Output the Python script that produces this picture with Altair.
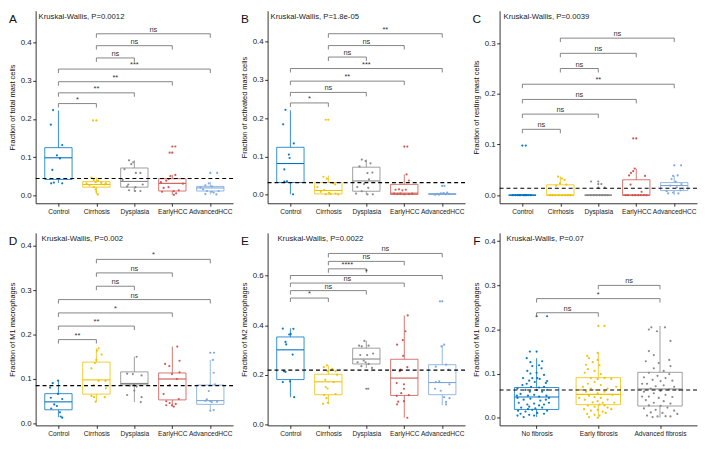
import altair as alt
import pandas as pd

FONT = "Liberation Sans"
W, H = 200, 195
BW = 0.36  # half box width in category units

CATS5 = ["Control", "Cirrhosis", "Dysplasia", "EarlyHCC", "AdvancedHCC"]
CATS3 = ["No fibrosis", "Early fibrosis", "Advanced fibrosis"]
COL5 = ["#0073C2", "#EFC000", "#868686", "#CD534C", "#7AA6DC"]
COL3 = ["#0073C2", "#EFC000", "#868686"]

# ---------------- Panel A ----------------
A_KW = "Kruskal-Wallis, P=0.0012"
A_YTITLE = "Fraction of total mast cells"
A_YDOMAIN = [-0.02, 0.482]
A_YTICKS = [0.0, 0.1, 0.2, 0.3, 0.4]
A_HLINE = 0.0447
A_LO = [0.033, 0.003, 0.010, 0.002, 0.003]
A_Q1 = [0.042, 0.022, 0.022, 0.012, 0.012]
A_MED = [0.0986, 0.029, 0.037, 0.032, 0.020]
A_Q3 = [0.125, 0.0365, 0.072, 0.044, 0.024]
A_HI = [0.222, 0.047, 0.092, 0.054, 0.035]
A_OUT_X = [1, 3, 3, 4]
A_OUT_Y = [0.196, 0.112, 0.128, 0.059]
A_Control = [(-0.14, 0.223), (-0.2, 0.185), (0.1, 0.132), (-0.04, 0.105), (0.04, 0.097),
             (-0.16, 0.067), (-0.19, 0.032), (-0.12, 0.034), (0.1, 0.032)]
A_Cirrhosis = [(-0.09, 0.196), (-0.13, 0.047), (-0.07, 0.041), (0.04, 0.039), (-0.02, 0.035),
               (-0.26, 0.032), (0.13, 0.033), (0.22, 0.029), (-0.18, 0.027), (-0.07, 0.022),
               (-0.02, 0.016), (0.04, 0.003), (0.0, 0.010), (0.25, 0.032)]
A_Dysplasia = [(-0.14, 0.092), (-0.03, 0.087), (-0.08, 0.082), (-0.26, 0.069), (0.04, 0.059),
               (0.16, 0.059), (-0.31, 0.041), (-0.16, 0.029), (-0.19, 0.024), (0.03, 0.022),
               (-0.14, 0.014), (0.02, 0.012), (0.16, 0.012), (0.22, 0.029)]
A_EarlyHCC = [(-0.07, 0.112), (0.08, 0.128), (-0.05, 0.051), (0.08, 0.054), (-0.1, 0.043),
              (-0.16, 0.039), (-0.3, 0.035), (-0.23, 0.020), (-0.1, 0.022), (0.04, 0.012),
              (0.1, 0.006), (0.04, 0.002), (-0.27, 0.010), (0.28, 0.031), (0.17, 0.014)]
A_AdvancedHCC = [(0.18, 0.059), (-0.04, 0.032), (-0.13, 0.027), (0.04, 0.024), (-0.26, 0.021),
                 (-0.19, 0.016), (-0.09, 0.012), (0.04, 0.010), (0.16, 0.003), (0.09, 0.008),
                 (0.22, 0.012), (-0.13, 0.004)]
A_BR = [(0, 1, 0.240, "*"), (0, 2, 0.268, "**"), (0, 3, 0.297, "**"), (0, 4, 0.330, "***"),
        (1, 2, 0.359, "ns"), (1, 3, 0.391, "ns"), (1, 4, 0.422, "ns")]

# ---------------- Panel B ----------------
B_KW = "Kruskal-Wallis, P=1.8e-05"
B_YTITLE = "Fraction of activated mast cells"
B_YDOMAIN = [-0.0224, 0.481]
B_YTICKS = [0.0, 0.1, 0.2, 0.3, 0.4]
B_HLINE = 0.0316
B_LO = [0.001, 0.0, 0.0, 0.0, 0.0]
B_Q1 = [0.032, 0.002, 0.009, 0.0005, 0.0005]
B_MED = [0.0815, 0.011, 0.036, 0.004, 0.0015]
B_Q3 = [0.124, 0.032, 0.072, 0.027, 0.003]
B_HI = [0.221, 0.05, 0.092, 0.053, 0.006]
B_OUT_X = [1, 3, 4]
B_OUT_Y = [0.196, 0.126, 0.023]
B_Control = [(-0.13, 0.222), (-0.19, 0.184), (0.09, 0.134), (-0.04, 0.105), (-0.02, 0.096),
             (-0.16, 0.066), (-0.16, 0.034), (-0.09, 0.035), (0.07, 0.001)]
B_Cirrhosis = [(-0.07, 0.196), (-0.13, 0.047), (-0.04, 0.042), (0.18, 0.027), (-0.29, 0.020),
               (-0.2, 0.0075), (-0.07, 0.001), (0.06, 0.002), (0.19, 0.003), (0.13, 0.030),
               (0.02, 0.005), (-0.11, 0.012), (0.26, 0.001)]
B_Dysplasia = [(-0.12, 0.092), (-0.02, 0.088), (0.11, 0.082), (-0.18, 0.074), (0.16, 0.058),
               (0.03, 0.0565), (0.07, 0.040), (-0.06, 0.028), (-0.24, 0.020), (0.05, 0.018),
               (-0.12, 0.009), (0.03, 0.001), (0.17, 0.001), (-0.27, 0.003)]
B_EarlyHCC = [(0.08, 0.126), (0.06, 0.053), (0.12, 0.037), (-0.14, 0.014), (-0.23, 0.013),
              (-0.05, 0.0115), (0.04, 0.013), (-0.1, 0.003), (-0.18, 0.0017), (0.12, 0.0017),
              (0.21, 0.003), (0.0, 0.001), (-0.27, 0.003)]
B_AdvancedHCC = [(0.06, 0.023), (-0.22, 0.001), (-0.13, 0.0025), (-0.04, 0.0033), (0.04, 0.004),
                 (0.13, 0.0058), (0.18, 0.0017), (-0.18, 0.0), (0.09, 0.001), (-0.09, 0.0)]
B_BR = [(0, 1, 0.240, "*"), (0, 2, 0.2675, "ns"), (0, 3, 0.297, "**"), (0, 4, 0.330, "***"),
        (1, 2, 0.360, "ns"), (1, 3, 0.390, "ns"), (1, 4, 0.421, "**")]

# ---------------- Panel C ----------------
C_KW = "Kruskal-Wallis, P=0.0039"
C_YTITLE = "Fraction of resting mast cells"
C_YDOMAIN = [-0.016, 0.364]
C_YTICKS = [0.0, 0.1, 0.2, 0.3]
C_HLINE = 0.0135
C_LO = [0.0, 0.0, 0.0, 0.0, 0.0]
C_Q1 = [0.0, 0.0, 0.0, 0.0, 0.009]
C_MED = [0.0, 0.0, 0.0, 0.0, 0.019]
C_Q3 = [0.0, 0.0204, 0.0, 0.0304, 0.0248]
C_HI = [0.0, 0.0367, 0.0, 0.052, 0.038]
C_OUT_X = [0, 2, 2, 2, 3, 4]
C_OUT_Y = [0.098, 0.027, 0.022, 0.0147, 0.112, 0.059]
C_Control = [(0.09, 0.098), (-0.25, 0.0), (-0.18, 0.0), (-0.12, 0.0), (-0.05, 0.0), (0.02, 0.0),
             (0.08, 0.0), (0.15, 0.0), (0.22, 0.0), (-0.08, 0.0), (0.1, 0.0), (0.05, 0.0)]
C_Cirrhosis = [(-0.06, 0.0367), (0.04, 0.033), (0.11, 0.030), (-0.01, 0.0235), (0.16, 0.021),
               (-0.11, 0.019), (-0.27, 0.0), (-0.2, 0.0), (-0.13, 0.0), (-0.04, 0.0), (0.05, 0.0),
               (0.13, 0.0), (0.2, 0.0), (0.26, 0.0)]
C_Dysplasia = [(-0.19, 0.027), (0.08, 0.022), (0.17, 0.0147), (-0.28, 0.0), (-0.2, 0.0),
               (-0.12, 0.0), (-0.05, 0.0), (0.03, 0.0), (0.1, 0.0), (0.18, 0.0), (0.25, 0.0)]
C_EarlyHCC = [(-0.08, 0.112), (-0.04, 0.0524), (-0.08, 0.0474), (-0.14, 0.044), (-0.19, 0.039),
              (0.23, 0.038), (-0.15, 0.021), (0.14, 0.0066), (-0.28, 0.0), (-0.22, 0.0), (-0.1, 0.0),
              (-0.03, 0.0), (0.05, 0.0), (0.12, 0.0), (0.2, 0.0), (0.27, 0.0)]
C_AdvancedHCC = [(0.18, 0.059), (-0.03, 0.038), (0.09, 0.039), (-0.07, 0.0317), (0.04, 0.0266),
                 (0.19, 0.022), (-0.11, 0.019), (0.07, 0.0154), (0.16, 0.0097), (-0.16, 0.0034),
                 (-0.03, 0.0052), (0.11, 0.0034), (-0.2, 0.0078), (0.24, 0.0128)]
C_BR = [(0, 1, 0.130, "ns"), (0, 2, 0.160, "ns"), (0, 3, 0.189, "ns"), (0, 4, 0.219, "**"),
        (1, 2, 0.250, "ns"), (1, 3, 0.280, "ns"), (1, 4, 0.310, "ns")]

# ---------------- Panel D ----------------
D_KW = "Kruskal-Wallis, P=0.002"
D_YTITLE = "Fraction of M1 macrophages"
D_YDOMAIN = [-0.0043, 0.4286]
D_YTICKS = [0.0, 0.1, 0.2, 0.3, 0.4]
D_HLINE = 0.085
D_LO = [0.0143, 0.049, 0.048, 0.038, 0.030]
D_Q1 = [0.0307, 0.066, 0.087, 0.053, 0.043]
D_MED = [0.0486, 0.098, 0.090, 0.100, 0.0514]
D_Q3 = [0.067, 0.138, 0.116, 0.1136, 0.0864]
D_HI = [0.0964, 0.169, 0.150, 0.173, 0.143]
D_OUT_X = [4]
D_OUT_Y = [0.159]
D_Control = [(-0.01, 0.0964), (-0.15, 0.0907), (-0.22, 0.0807), (-0.2, 0.0578), (0.1, 0.055),
             (-0.01, 0.0664), (-0.11, 0.0429), (-0.04, 0.0393), (0.04, 0.025), (0.06, 0.0157),
             (0.1, 0.0129), (-0.19, 0.0336)]
D_Cirrhosis = [(0.06, 0.169), (0.14, 0.155), (0.0, 0.143), (-0.04, 0.136), (-0.13, 0.124),
               (0.06, 0.096), (0.24, 0.096), (-0.07, 0.086), (0.25, 0.079), (-0.13, 0.062),
               (-0.06, 0.059), (-0.02, 0.049), (0.22, 0.059), (0.02, 0.164)]
D_Dysplasia = [(0.06, 0.150), (-0.19, 0.112), (-0.04, 0.111), (0.19, 0.108), (-0.01, 0.088),
               (-0.12, 0.085), (0.06, 0.083), (0.0, 0.074), (-0.19, 0.064), (0.19, 0.059),
               (0.17, 0.048)]
D_EarlyHCC = [(0.13, 0.173), (-0.19, 0.134), (-0.08, 0.129), (0.19, 0.141), (0.19, 0.115),
              (-0.01, 0.111), (0.12, 0.100), (-0.07, 0.086), (-0.23, 0.066), (-0.16, 0.050),
              (-0.07, 0.046), (-0.01, 0.041), (0.09, 0.044), (-0.16, 0.041), (0.04, 0.038),
              (0.17, 0.055)]
D_AdvancedHCC = [(0.1, 0.159), (0.07, 0.143), (0.09, 0.114), (0.12, 0.088), (-0.04, 0.073),
                 (-0.13, 0.051), (0.0, 0.050), (0.18, 0.049), (0.04, 0.048), (0.09, 0.030),
                 (0.0, 0.0286), (-0.09, 0.054)]
D_BR = [(0, 1, 0.1886, "**"), (0, 2, 0.219, "**"), (0, 3, 0.2486, "*"), (0, 4, 0.2786, "ns"),
        (1, 2, 0.3086, "ns"), (1, 3, 0.3386, "ns"), (1, 4, 0.369, "*")]

# ---------------- Panel E ----------------
E_KW = "Kruskal-Wallis, P=0.0022"
E_YTITLE = "Fraction of M2 macrophages"
E_YDOMAIN = [-0.0038, 0.773]
E_YTICKS = [0.0, 0.2, 0.4, 0.6]
E_HLINE = 0.219
E_LO = [0.110, 0.083, 0.228, 0.027, 0.077]
E_Q1 = [0.181, 0.120, 0.244, 0.117, 0.120]
E_MED = [0.301, 0.172, 0.264, 0.187, 0.169]
E_Q3 = [0.353, 0.2026, 0.3077, 0.263, 0.241]
E_HI = [0.388, 0.238, 0.337, 0.440, 0.320]
E_OUT_X = [2, 4]
E_OUT_Y = [0.144, 0.497]
E_Control = [(-0.2, 0.387), (0.08, 0.386), (-0.03, 0.363), (0.01, 0.365), (-0.13, 0.333),
             (-0.11, 0.323), (0.06, 0.282), (-0.17, 0.215), (-0.13, 0.212), (-0.01, 0.174),
             (-0.2, 0.171), (0.1, 0.110)]
E_Cirrhosis = [(-0.04, 0.238), (-0.12, 0.231), (0.1, 0.224), (0.19, 0.215), (-0.02, 0.215),
               (0.23, 0.200), (-0.08, 0.180), (0.14, 0.171), (-0.07, 0.151), (-0.02, 0.145),
               (-0.11, 0.119), (-0.05, 0.106), (0.19, 0.122), (-0.14, 0.083), (-0.01, 0.087)]
E_Dysplasia = [(0.05, 0.144), (-0.05, 0.337), (-0.19, 0.318), (-0.12, 0.315), (0.06, 0.318),
               (-0.16, 0.280), (0.02, 0.280), (0.18, 0.286), (-0.07, 0.258), (-0.23, 0.251),
               (-0.02, 0.251), (0.06, 0.244), (-0.13, 0.235), (0.15, 0.228)]
E_EarlyHCC = [(0.09, 0.440), (0.03, 0.376), (-0.04, 0.340), (-0.19, 0.322), (-0.03, 0.277),
              (0.08, 0.231), (-0.1, 0.221), (-0.12, 0.215), (-0.2, 0.167), (-0.01, 0.162),
              (-0.01, 0.144), (-0.08, 0.126), (0.12, 0.118), (-0.2, 0.115), (-0.16, 0.092),
              (-0.19, 0.081), (-0.01, 0.094), (0.08, 0.027)]
E_AdvancedHCC = [(-0.06, 0.497), (0.05, 0.322), (-0.02, 0.315), (-0.17, 0.233), (0.1, 0.241),
                 (0.16, 0.221), (-0.17, 0.171), (-0.08, 0.174), (0.19, 0.162), (-0.04, 0.136),
                 (-0.19, 0.144), (0.05, 0.110), (0.19, 0.106), (0.1, 0.091), (0.1, 0.081)]
E_BR = [(0, 1, 0.510, "*"), (0, 2, 0.540, "ns"), (0, 3, 0.5705, "ns"), (0, 4, 0.601, "*"),
        (1, 2, 0.628, "****"), (1, 3, 0.658, "ns"), (1, 4, 0.690, "ns")]

# ---------------- Panel F ----------------
F_KW = "Kruskal-Wallis, P=0.07"
F_YTITLE = "Fraction of M1 macrophages"
F_YDOMAIN = [-0.0173, 0.419]
F_YTICKS = [0.0, 0.1, 0.2, 0.3, 0.4]
F_HLINE = 0.0627
F_LO = [0.0015, 0.0, 0.0]
F_Q1 = [0.0188, 0.0296, 0.0266]
F_MED = [0.047, 0.053, 0.065]
F_Q3 = [0.0685, 0.0908, 0.103]
F_HI = [0.135, 0.147, 0.208]
F_OUT_X = [0, 0, 1]
F_OUT_Y = [0.230, 0.150, 0.208]
F_NoFibrosis = [(0.17, 0.230), (-0.11, 0.150), (-0.16, 0.135), (-0.1, 0.126), (0.09, 0.128),
                (-0.07, 0.117), (0.04, 0.119), (0.08, 0.112), (-0.15, 0.106), (-0.1, 0.100),
                (0.0, 0.102), (0.12, 0.097), (-0.07, 0.090), (0.05, 0.088), (-0.12, 0.084),
                (-0.16, 0.077), (-0.03, 0.081), (0.15, 0.079), (-0.23, 0.074), (-0.09, 0.070),
                (0.04, 0.0685), (0.12, 0.070), (-0.31, 0.066), (-0.18, 0.063), (-0.11, 0.059),
                (0.0, 0.063), (0.09, 0.059), (0.17, 0.063), (-0.26, 0.054), (-0.14, 0.050),
                (-0.04, 0.052), (0.04, 0.048), (0.16, 0.050), (-0.31, 0.045), (-0.21, 0.041),
                (-0.1, 0.043), (0.06, 0.039), (0.15, 0.041), (-0.29, 0.034), (-0.15, 0.030),
                (-0.04, 0.032), (0.04, 0.028), (0.12, 0.030), (0.2, 0.034), (-0.25, 0.023),
                (-0.12, 0.025), (-0.02, 0.021), (0.09, 0.023), (-0.3, 0.016), (-0.18, 0.014),
                (-0.07, 0.018), (0.17, 0.016), (-0.26, 0.009), (-0.12, 0.0065), (0.01, 0.011),
                (0.12, 0.009), (-0.21, 0.0015), (-0.04, 0.005), (-0.31, 0.005), (-0.14, 0.0195),
                (0.2, 0.045), (-0.22, 0.090), (0.17, 0.083), (-0.32, 0.050), (0.01, 0.090)]
F_EarlyFibrosis = [(0.1, 0.208), (-0.01, 0.147), (-0.18, 0.140), (-0.15, 0.135), (-0.01, 0.131),
                   (-0.09, 0.126), (-0.2, 0.120), (0.02, 0.119), (-0.17, 0.110), (-0.06, 0.106),
                   (-0.22, 0.102), (0.04, 0.099), (-0.12, 0.090), (-0.01, 0.088), (0.1, 0.090),
                   (-0.06, 0.081), (-0.17, 0.077), (-0.25, 0.070), (0.04, 0.074), (0.15, 0.066),
                   (-0.12, 0.066), (-0.04, 0.063), (-0.2, 0.059), (0.1, 0.059), (-0.01, 0.0555),
                   (-0.15, 0.050), (0.23, 0.052), (-0.06, 0.047), (0.04, 0.045), (-0.22, 0.041),
                   (0.15, 0.041), (-0.09, 0.035), (-0.01, 0.0375), (0.07, 0.034), (0.1, 0.028),
                   (0.02, 0.030), (-0.17, 0.028), (-0.06, 0.025), (0.15, 0.023), (-0.23, 0.0195),
                   (-0.01, 0.018), (-0.12, 0.016), (0.07, 0.0137), (-0.18, 0.0086), (-0.06, 0.0065),
                   (0.02, 0.005), (0.12, 0.011), (-0.15, 0.0014), (-0.01, 0.0), (0.21, 0.0195),
                   (-0.31, 0.045), (0.26, 0.034), (-0.28, 0.063), (0.29, 0.070), (0.21, 0.088)]
F_AdvancedFibrosis = [(-0.14, 0.205), (0.08, 0.205), (-0.18, 0.200), (-0.05, 0.196), (0.17, 0.174),
                      (-0.18, 0.151), (-0.1, 0.142), (0.15, 0.131), (-0.23, 0.128), (-0.02, 0.124),
                      (0.17, 0.117), (-0.1, 0.112), (0.06, 0.106), (-0.18, 0.102), (0.15, 0.099),
                      (-0.04, 0.095), (-0.26, 0.0915), (0.09, 0.090), (-0.12, 0.086), (0.01, 0.083),
                      (0.2, 0.084), (-0.21, 0.077), (0.06, 0.0735), (-0.07, 0.0714), (0.23, 0.070),
                      (-0.15, 0.066), (0.15, 0.064), (0.01, 0.061), (-0.26, 0.059), (-0.1, 0.0555),
                      (0.09, 0.052), (-0.18, 0.048), (0.2, 0.047), (-0.02, 0.045), (-0.23, 0.040),
                      (0.06, 0.0375), (-0.1, 0.034), (0.17, 0.032), (-0.18, 0.028), (0.01, 0.027),
                      (0.12, 0.023), (-0.26, 0.021), (-0.07, 0.018), (0.23, 0.016), (-0.15, 0.012),
                      (0.04, 0.011), (-0.21, 0.005), (-0.04, 0.003), (0.09, 0.0036), (0.17, 0.003),
                      (-0.12, 0.0014), (0.28, 0.0086), (-0.29, 0.048), (0.31, 0.063), (-0.29, 0.077)]
F_BR = [(0, 1, 0.238, "ns"), (0, 2, 0.270, "*"), (1, 2, 0.300, "ns")]


def make_panel(letter, kw, kw_dx, ytitle, cats, cols, ydomain, yticks, hline,
               lo, q1, med, q3, hi, out_x, out_y, groups, brackets):
    n = len(cats)
    label_expr = "[" + ",".join("'%s'" % c for c in cats) + "][datum.value]"
    xs = alt.Scale(domain=[-0.6, n - 0.4], nice=False, zero=False)
    ys = alt.Scale(domain=ydomain, nice=False, zero=False)
    xaxis = alt.Axis(values=list(range(n)), labelExpr=label_expr, title=None, grid=False,
                     labelOverlap=False, labelFlush=False)
    yaxis = alt.Axis(values=yticks, format=".1f", title=ytitle, grid=False,
                     labelOverlap=False, labelFlush=False)

    def X(f):
        return alt.X(f + ":Q", scale=xs, axis=xaxis)

    def Y(f):
        return alt.Y(f + ":Q", scale=ys, axis=yaxis)

    col = alt.Color("c:N", scale=None, legend=None)

    pts = pd.DataFrame([{"x": i + dx, "y": v, "c": cols[i]}
                        for i, g in enumerate(groups) for dx, v in g])
    box = pd.DataFrame({"xl": [i - BW for i in range(n)], "xr": [i + BW for i in range(n)],
                        "q1": q1, "q3": q3, "med": med, "c": cols})
    wh = pd.DataFrame([{"xc": i, "ya": a, "yb": b, "c": cols[i]}
                       for i in range(n) for a, b in ((lo[i], q1[i]), (q3[i], hi[i]))])
    out = pd.DataFrame({"x": out_x, "y": out_y, "c": [cols[i] for i in out_x]})
    tip = 4.0 * (ydomain[1] - ydomain[0]) / H
    br = pd.DataFrame([{"x1": a, "x2": b, "xm": (a + b) / 2, "y": y, "lab": t}
                       for a, b, y, t in brackets])
    tips = pd.DataFrame([{"x": xx, "ya": y, "yb": y - tip}
                         for a, b, y, t in brackets for xx in (a, b)])

    layers = [
        alt.Chart(box).mark_rect(fillOpacity=0, strokeWidth=0.8).encode(
            x=X("xl"), x2="xr", y=Y("q1"), y2="q3", stroke=alt.Stroke("c:N", scale=None, legend=None)),
        alt.Chart(wh).mark_rule(strokeWidth=0.8).encode(x=X("xc"), y=Y("ya"), y2="yb", color=col),
        alt.Chart(box).mark_rule(strokeWidth=1.1).encode(x=X("xl"), x2="xr", y=Y("med"), color=col),
        alt.Chart(out).mark_circle(size=5, opacity=1).encode(x=X("x"), y=Y("y"), color=col),
        alt.Chart(pts).mark_circle(size=5, opacity=0.95).encode(x=X("x"), y=Y("y"), color=col),
        alt.Chart(pd.DataFrame({"y": [hline]})).mark_rule(
            strokeDash=[4, 3], strokeWidth=1.1, color="black").encode(
            y=Y("y"), x=alt.value(0), x2=alt.value(W)),
        alt.Chart(br).mark_rule(strokeWidth=0.8).encode(
            x=X("x1"), x2="x2", y=Y("y"), color=alt.value("#666666")),
        alt.Chart(tips).mark_rule(strokeWidth=0.8).encode(
            x=X("x"), y=Y("ya"), y2="yb", color=alt.value("#666666")),
        alt.Chart(br).mark_text(font=FONT, fontSize=7.5, baseline="alphabetic", dy=-2).encode(
            x=X("xm"), y=Y("y"), text="lab:N", color=alt.value("#333333")),
        alt.Chart(pd.DataFrame({"t": [kw]})).mark_text(
            font=FONT, fontSize=7.8, align="left", baseline="middle").encode(
            x=alt.value(kw_dx), y=alt.value(6), text="t:N", color=alt.value("#222222")),
        alt.Chart(pd.DataFrame({"t": [letter]})).mark_text(
            font=FONT, fontSize=12, align="center", baseline="middle").encode(
            x=alt.value(-23), y=alt.value(8), text="t:N", color=alt.value("#111111")),
    ]
    return alt.layer(*layers).properties(width=W, height=H)


pA = make_panel("A", A_KW, 3, A_YTITLE, CATS5, COL5, A_YDOMAIN, A_YTICKS, A_HLINE,
                A_LO, A_Q1, A_MED, A_Q3, A_HI, A_OUT_X, A_OUT_Y,
                [A_Control, A_Cirrhosis, A_Dysplasia, A_EarlyHCC, A_AdvancedHCC], A_BR)
pB = make_panel("B", B_KW, 3, B_YTITLE, CATS5, COL5, B_YDOMAIN, B_YTICKS, B_HLINE,
                B_LO, B_Q1, B_MED, B_Q3, B_HI, B_OUT_X, B_OUT_Y,
                [B_Control, B_Cirrhosis, B_Dysplasia, B_EarlyHCC, B_AdvancedHCC], B_BR)
pC = make_panel("C", C_KW, 4, C_YTITLE, CATS5, COL5, C_YDOMAIN, C_YTICKS, C_HLINE,
                C_LO, C_Q1, C_MED, C_Q3, C_HI, C_OUT_X, C_OUT_Y,
                [C_Control, C_Cirrhosis, C_Dysplasia, C_EarlyHCC, C_AdvancedHCC], C_BR)
pD = make_panel("D", D_KW, 6, D_YTITLE, CATS5, COL5, D_YDOMAIN, D_YTICKS, D_HLINE,
                D_LO, D_Q1, D_MED, D_Q3, D_HI, D_OUT_X, D_OUT_Y,
                [D_Control, D_Cirrhosis, D_Dysplasia, D_EarlyHCC, D_AdvancedHCC], D_BR)
pE = make_panel("E", E_KW, 10, E_YTITLE, CATS5, COL5, E_YDOMAIN, E_YTICKS, E_HLINE,
                E_LO, E_Q1, E_MED, E_Q3, E_HI, E_OUT_X, E_OUT_Y,
                [E_Control, E_Cirrhosis, E_Dysplasia, E_EarlyHCC, E_AdvancedHCC], E_BR)
pF = make_panel("F", F_KW, 7, F_YTITLE, CATS3, COL3, F_YDOMAIN, F_YTICKS, F_HLINE,
                F_LO, F_Q1, F_MED, F_Q3, F_HI, F_OUT_X, F_OUT_Y,
                [F_NoFibrosis, F_EarlyFibrosis, F_AdvancedFibrosis], F_BR)

row1 = alt.hconcat(pA, pB, pC, spacing=6).resolve_scale(x="independent", y="independent")
row2 = alt.hconcat(pD, pE, pF, spacing=6).resolve_scale(x="independent", y="independent")

chart = (
    alt.vconcat(row1, row2, spacing=18)
    .resolve_scale(x="independent", y="independent")
    .properties(padding=0)
    .configure_view(stroke=None)
    .configure_axis(grid=False, domainColor="#000000", domainWidth=0.8, tickColor="#000000",
                    tickWidth=0.8, tickSize=3, labelFont=FONT, titleFont=FONT,
                    labelColor="#222222", titleColor="#111111", titleFontWeight="normal")
    .configure_axisX(labelFontSize=6.7, labelPadding=2)
    .configure_axisY(labelFontSize=8, labelPadding=1.5, titleFontSize=7.5, titlePadding=4)
)

chart.save("out.html", embed_options={"renderer": "svg", "actions": False})
